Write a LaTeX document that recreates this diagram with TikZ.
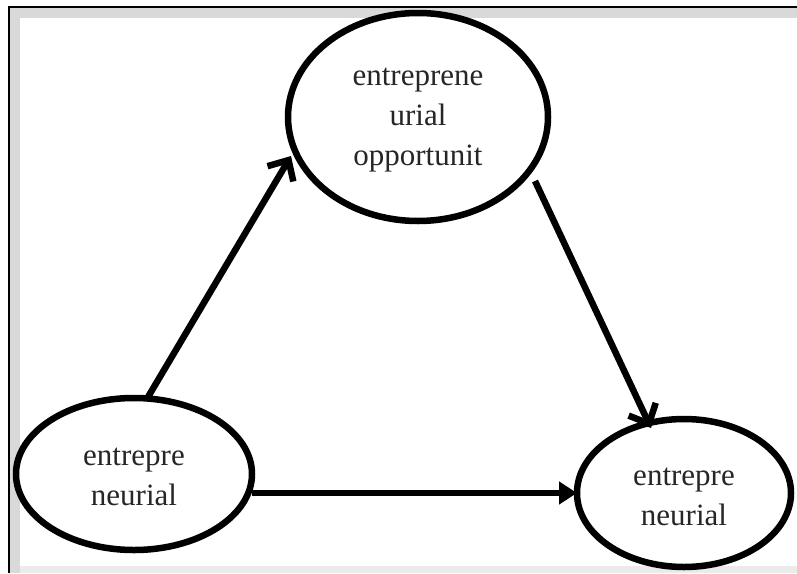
\documentclass[tikz,border=0pt]{standalone}
\usepackage{fontspec}
\setmainfont{Liberation Serif}
\usetikzlibrary{arrows.meta,shapes.geometric}
\begin{document}
\begin{tikzpicture}[x=1pt,y=-1pt,
  oval/.style={draw=black,line width=6.5pt,fill=white,ellipse,inner sep=0pt},
  lbl/.style={font=\fontsize{31}{40}\selectfont,text=black!85,align=center},
  link/.style={line width=6.5pt}]
\useasboundingbox (0,0) rectangle (797,573);
\fill[white] (0,0) rectangle (797,573);
% frame
\fill[black!15] (10,8) rectangle (797,18);
\fill[black!15] (10,8) rectangle (20,573);
\fill[black!8] (20,566) rectangle (797,573);
\draw[black,line width=1.2pt] (9,573) -- (9,7) -- (797,7);
% nodes
\node[oval,minimum width=260pt,minimum height=208pt] (top) at (418,117) {};
\node[oval,minimum width=236pt,minimum height=152pt] (bl) at (134,474) {};
\node[oval,minimum width=214pt,minimum height=148pt] (br) at (684,493) {};
\node[lbl] (ttext) at (418,120) {entreprene\\urial\\opportunit};
\node[lbl] (bltext) at (134,477) {entrepre\\neurial};
\node[lbl] (brtext) at (684,497) {entrepre\\neurial};
% connectors
\coordinate (a1) at (148,397);
\coordinate (a2) at (291,156);
\coordinate (b1) at (535,181);
\coordinate (b2) at (651,428);
\coordinate (c1) at (252,493);
\coordinate (c2) at (577,493);
\draw[link,-{Straight Barb[length=16pt,width=30pt,line width=6.5pt]}] (a1) -- (a2);
\draw[link,-{Straight Barb[length=16pt,width=30pt,line width=6.5pt]}] (b1) -- (b2);
\draw[link,-{Triangle[length=18pt,width=22pt]}] (c1) -- (c2);
\end{tikzpicture}
\end{document}
